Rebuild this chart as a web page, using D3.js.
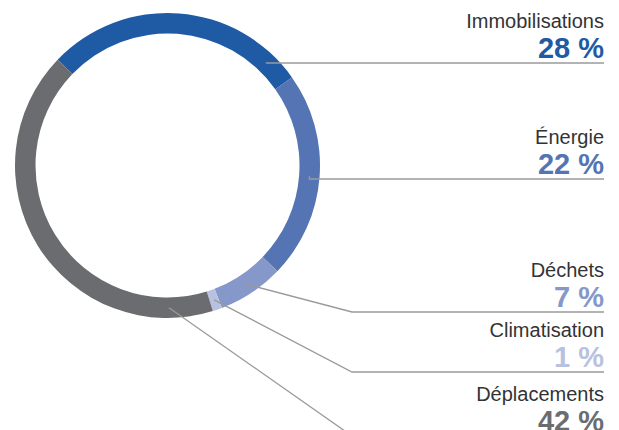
<!DOCTYPE html>
<html>
<head>
<meta charset="utf-8">
<script src="https://cdn.jsdelivr.net/npm/d3@7"></script>
<style>
  html, body { margin: 0; padding: 0; background: #ffffff; }
  svg { display: block; }
</style>
</head>
<body>
<svg id="chart" width="619" height="430"></svg>
<script>
// Share of the footprint by source, listed clockwise from the top of the ring
const categories = ["Immobilisations", "Énergie", "Déchets", "Climatisation", "Déplacements"];
const values = [28, 22, 7, 1, 42];
const colors = ["#1f5ba4", "#5474b3", "#8598c9", "#b8c2e0", "#6b6c70"];

const svg = d3.select("#chart");
const deg = Math.PI / 180;

// Ring geometry
const cx = 167.5, cy = 165.5;
const outerR = 152.5, innerR = 132;
const midR = (outerR + innerR) / 2;
const startAngle = -46.1 * deg;

const pie = d3.pie()
  .sort(null)
  .value(d => d)
  .startAngle(startAngle)
  .endAngle(startAngle + 2 * Math.PI);

const arc = d3.arc().innerRadius(innerR).outerRadius(outerR);
const arcs = pie(values);

const ring = svg.append("g").attr("transform", `translate(${cx},${cy})`);
ring.selectAll("path")
  .data(arcs)
  .join("path")
  .attr("d", arc)
  .attr("fill", (d, i) => colors[i]);

// Labels stacked on the right, each with a leader line back to its segment
const labelRight = 604;
const elbowX = 352;
const lineY = [63, 179, 312, 372, 436];
const anchorMin = 44 * deg, anchorMax = 179.4 * deg;

function anchorPoint(d) {
  let a = (d.startAngle + d.endAngle) / 2;
  a = Math.max(anchorMin, Math.min(anchorMax, a));
  a = Math.max(d.startAngle, Math.min(d.endAngle, a));
  return [cx + midR * Math.sin(a), cy - midR * Math.cos(a)];
}

const lines = svg.append("g");
arcs.forEach((d, i) => {
  const [ax, ay] = anchorPoint(d);
  const y = lineY[i];
  const ex = Math.abs(ay - y) < 4 ? ax : elbowX;
  lines.append("polyline")
    .attr("points", [[ax, ay], [ex, y], [labelRight, y]].map(p => p.join(",")).join(" "))
    .attr("fill", "none")
    .attr("stroke", "#9a9a9a")
    .attr("stroke-width", 1.3);
});

const labels = svg.append("g")
  .attr("font-family", "'Liberation Sans', Arial, Helvetica, sans-serif")
  .attr("text-anchor", "end");

arcs.forEach((d, i) => {
  const y = lineY[i];
  labels.append("text")
    .attr("x", labelRight)
    .attr("y", y - 35)
    .attr("font-size", 20)
    .attr("fill", "#333333")
    .text(categories[i]);
  labels.append("text")
    .attr("x", labelRight)
    .attr("y", y - 5)
    .attr("font-size", 29)
    .attr("font-weight", 700)
    .attr("fill", colors[i])
    .text(`${values[i]} %`);
});
</script>
</body>
</html>
